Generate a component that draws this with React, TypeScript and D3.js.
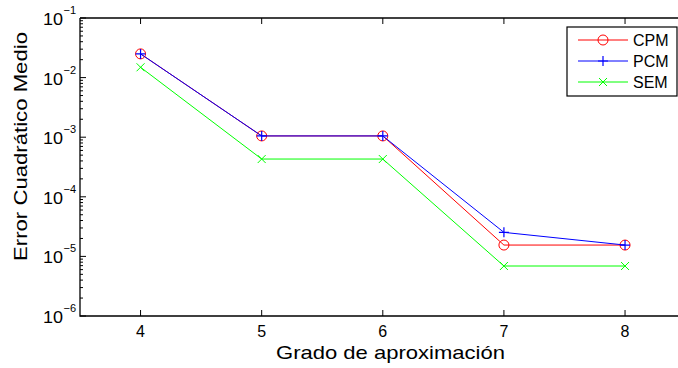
import React from "react";
import * as d3 from "d3";

const grados = [4, 5, 6, 7, 8];
const cpm = [0.025, 1.05e-3, 1.05e-3, 1.55e-5, 1.55e-5];
const pcm = [0.025, 1.05e-3, 1.05e-3, 2.53e-5, 1.55e-5];
const sem = [0.0149, 4.3e-4, 4.3e-4, 6.9e-6, 6.9e-6];
const yExponents = [-1, -2, -3, -4, -5, -6];
const seriesNames = ["CPM", "PCM", "SEM"];

const W = 678, H = 368;
const L = 80, T = 18, B = 316;

export default function App() {
  const x = d3.scaleLinear().domain([3.5, 8.5]).range([L, 685.6]);
  const y = d3.scaleLog().domain([1e-6, 1e-1]).range([B, T]);
  const line = d3.line<number>().x((_, i) => x(grados[i])).y((d) => y(d));
  const series = [
    { name: seriesNames[0], data: cpm, color: "#ff0000", marker: "o" },
    { name: seriesNames[1], data: pcm, color: "#0000ff", marker: "+" },
    { name: seriesNames[2], data: sem, color: "#00ff00", marker: "x" },
  ];
  const marker = (m: string, cx: number, cy: number, c: string, k: string) => {
    if (m === "o") return <circle key={k} cx={cx} cy={cy} r={5} fill="none" stroke={c} strokeWidth={1} />;
    if (m === "+")
      return (
        <path key={k} d={`M${cx - 5},${cy}H${cx + 5}M${cx},${cy - 5}V${cy + 5}`} stroke={c} strokeWidth={1.2} fill="none" />
      );
    return (
      <path key={k} d={`M${cx - 4},${cy - 4}L${cx + 4},${cy + 4}M${cx - 4},${cy + 4}L${cx + 4},${cy - 4}`} stroke={c} strokeWidth={1} fill="none" />
    );
  };
  const minor: number[] = [];
  for (let e = -6; e < -1; e++) for (let m = 2; m <= 9; m++) minor.push(m * Math.pow(10, e));
  const font = "Liberation Sans, Arial, Helvetica, sans-serif";
  const legX = 567, legY = 27, legW = 110, legH = 69;
  return (
    <svg width={W} height={H} style={{ position: "absolute", left: 0, top: 0, background: "#fff" }} fontFamily={font}>
      <rect width={W} height={H} fill="#fff" />
      {/* series */}
      {series.map((s) => (
        <g key={s.name}>
          <path d={line(s.data) || ""} fill="none" stroke={s.color} strokeWidth={1} />
          {s.data.map((v, i) => marker(s.marker, x(grados[i]), y(v), s.color, s.name + i))}
        </g>
      ))}
      {/* axes */}
      <path d={`M${L},${T}V${B}H${W}`} fill="none" stroke="#000" strokeWidth={1.3} />
      <path d={`M${L},${T}H${W}`} fill="none" stroke="#000" strokeWidth={1.3} />
      {grados.map((g) => (
        <g key={g}>
          <line x1={x(g)} x2={x(g)} y1={B} y2={B - 6} stroke="#000" />
          <line x1={x(g)} x2={x(g)} y1={T} y2={T + 6} stroke="#000" />
          <text x={x(g)} y={337} textAnchor="middle" fontSize={16}>{g}</text>
        </g>
      ))}
      {yExponents.map((e) => (
        <g key={e}>
          <line x1={L} x2={L + 6} y1={y(Math.pow(10, e))} y2={y(Math.pow(10, e))} stroke="#000" />
          <text x={63} y={y(Math.pow(10, e)) + 7} textAnchor="end" fontSize={16} textLength={20} lengthAdjust="spacingAndGlyphs">10</text>
          <text x={63.5} y={y(Math.pow(10, e)) - 4} textAnchor="start" fontSize={11}>{"\u2212" + Math.abs(e)}</text>
        </g>
      ))}
      {minor.map((v, i) => (
        <line key={i} x1={L} x2={L + 3} y1={y(v)} y2={y(v)} stroke="#000" />
      ))}
      <text x={276} y={359} fontSize={19} textLength={229} lengthAdjust="spacingAndGlyphs">Grado de aproximación</text>
      <text transform={`translate(27,261) rotate(-90)`} fontSize={19} textLength={229} lengthAdjust="spacingAndGlyphs">Error Cuadrático Medio</text>
      {/* legend */}
      <rect x={legX} y={legY} width={legW} height={legH} fill="#fff" stroke="#000" strokeWidth={1.2} />
      {series.map((s, i) => {
        const ly = 40 + i * 21;
        return (
          <g key={s.name}>
            <line x1={578} x2={628} y1={ly} y2={ly} stroke={s.color} strokeWidth={1} />
            {marker(s.marker, 603, ly, s.color, "l" + i)}
            <text x={633} y={ly + 6} fontSize={16}>{s.name}</text>
          </g>
        );
      })}
    </svg>
  );
}
